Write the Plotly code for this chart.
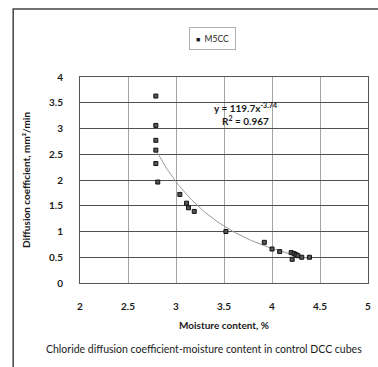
import numpy as np
import plotly.graph_objects as go

# Measured moisture content (%) and chloride diffusion coefficient (mm²/min)
moisture = [2.79, 2.79, 2.79, 2.79, 2.79, 2.81, 3.04, 3.11, 3.13, 3.19, 3.52,
            3.92, 4.00, 4.08, 4.20, 4.21, 4.23, 4.25, 4.27, 4.31, 4.39]
diffusion = [3.63, 3.06, 2.77, 2.58, 2.32, 1.96, 1.72, 1.55, 1.46, 1.39, 1.00,
             0.79, 0.66, 0.61, 0.59, 0.46, 0.57, 0.55, 0.53, 0.50, 0.50]

# Power-law trend: y = a * x^b
fit_a = 119.7
fit_b = -3.74
fit_r2 = 0.967

x_ticks = [2, 2.5, 3, 3.5, 4, 4.5, 5]
y_ticks = [0, 0.5, 1, 1.5, 2, 2.5, 3, 3.5, 4]

series_name = "M5CC"
x_title = "Moisture content, %"
y_title = "Diffusion coefficient, mm²/min"
caption = "Chloride diffusion coefficient-moisture content in control DCC cubes"

FONT = "Lato"
INK = "#1a1a1a"

trend_x = np.linspace(min(moisture), max(moisture), 120)
trend_y = fit_a * trend_x ** fit_b

fig = go.Figure()

fig.add_trace(go.Scatter(
    x=trend_x, y=trend_y, mode="lines",
    line=dict(color="#9a9a9a", width=1),
    showlegend=False, hoverinfo="skip",
))

fig.add_trace(go.Scatter(
    x=moisture, y=diffusion, mode="markers", name=series_name,
    showlegend=False,
    marker=dict(symbol="square", size=4, color="#555555",
                line=dict(color="#111111", width=1)),
))

fig.update_layout(
    width=378, height=367,
    margin=dict(l=79.5, r=7, t=77, b=84),
    paper_bgcolor="white", plot_bgcolor="white",
    font=dict(family=FONT, color=INK),
    xaxis=dict(
        range=[2, 5], tickvals=x_ticks, ticktext=[f"{v:g}" for v in x_ticks],
        showgrid=True, gridcolor="#a5a5a5", gridwidth=1,
        zeroline=False, showline=True, linecolor="#555555", linewidth=1,
        mirror=True, ticks="", ticklabelstandoff=14,
        tickfont=dict(size=10, family=FONT, weight="bold", color=INK),
        title=dict(text=x_title, standoff=10,
                   font=dict(size=10, family=FONT, weight="bold", color=INK)),
    ),
    yaxis=dict(
        range=[0, 4], tickvals=y_ticks, ticktext=[f"{v:g}" for v in y_ticks],
        showgrid=True, gridcolor="#505050", gridwidth=1,
        zeroline=False, showline=True, linecolor="#555555", linewidth=1,
        mirror=True, ticks="", ticklabelstandoff=14,
        tickfont=dict(size=10, family=FONT, weight="bold", color=INK),
        title=dict(text=y_title, standoff=16,
                   font=dict(size=10, family=FONT, weight="bold", color=INK)),
    ),
)

# Series key in a framed box above the plot
fig.add_annotation(
    x=0.46, y=1.187, xref="paper", yref="paper", xanchor="center", yanchor="middle",
    text=f"<span style='font-size:7px'>■</span>  {series_name}", showarrow=False,
    width=43, height=19, align="center",
    bgcolor="white", bordercolor="#b0b0b0", borderwidth=1, borderpad=1,
    font=dict(size=8.5, family=FONT, color=INK),
)

# Trendline equation and goodness of fit
fig.add_annotation(
    x=3.72, y=3.28, xref="x", yref="y", xanchor="center", yanchor="middle",
    text=f"y = {fit_a}x<sup>{fit_b}</sup><br>R<sup>2</sup> = {fit_r2}",
    showarrow=False, align="center",
    font=dict(size=10, family=FONT, weight="bold", color=INK),
)

# Caption below the chart
fig.add_annotation(
    x=0.43, y=-0.32, xref="paper", yref="paper", xanchor="center", yanchor="middle",
    text=caption, showarrow=False,
    font=dict(size=10.5, family=FONT, color=INK),
)

# Outer frame around the chart
fig.add_shape(
    type="rect", xref="paper", yref="paper",
    x0=-0.232, y0=-0.5, x1=1.2, y1=1.33,
    line=dict(color="#444444", width=1.5), fillcolor="rgba(0,0,0,0)",
    layer="below",
)

fig.write_html("out.html")
